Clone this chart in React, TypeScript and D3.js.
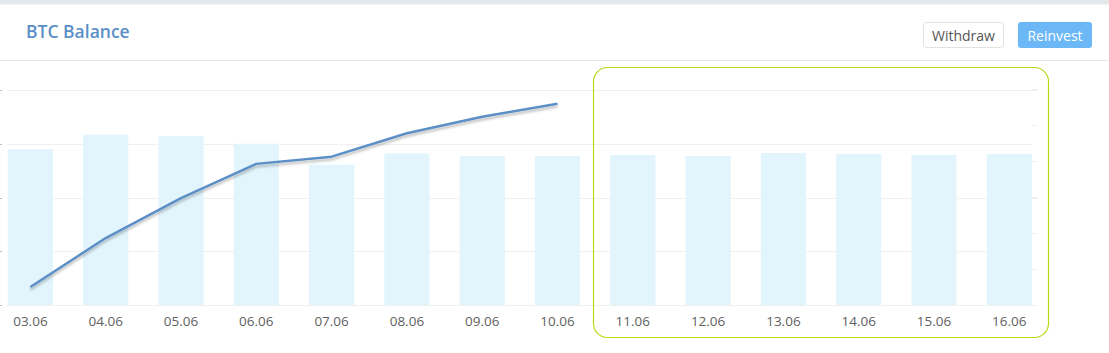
import React from "react";
import * as d3 from "d3";

const dates = ["03.06","04.06","05.06","06.06","07.06","08.06","09.06","10.06","11.06","12.06","13.06","14.06","15.06","16.06"];
const barValues = [2.90,3.17,3.14,3.00,2.61,2.82,2.77,2.77,2.79,2.77,2.83,2.81,2.79,2.81];
const lineDates = ["03.06","04.06","05.06","06.06","07.06","08.06","09.06","10.06"];
const lineValues = [0.5,1.86,2.97,3.92,4.12,4.77,5.23,5.59];
const leftTicks = [0,1,2,3,4];
const rightTicks = [0,1,2,3,4,5,6];

const W = 1109, H = 353;

export default function App() {
  const x = d3.scaleBand<string>().domain(dates).range([-7.25, 1046.95]).paddingInner(0.4).paddingOuter(0.2);
  const yL = d3.scaleLinear().domain([0, 4]).range([305, 90]);
  const yR = d3.scaleLinear().domain([0, 6]).range([305, 89]);
  const cx = (d: string) => (x(d) as number) + x.bandwidth() / 2;
  const line = d3.line<number>().x((_, i) => cx(lineDates[i])).y(v => yR(v));
  const font = "'Open Sans', 'Noto Sans', sans-serif";
  return (
    <svg width={W} height={H} style={{ position: "absolute", left: 0, top: 0, background: "#fff" }} fontFamily={font}>
      <defs>
        <filter id="sh" x="-10%" y="-20%" width="120%" height="160%">
          <feDropShadow dx="0" dy="2.5" stdDeviation="1" floodColor="#000" floodOpacity="0.25" />
        </filter>
      </defs>
      <rect x={0} y={0} width={W} height={4.5} fill="#e5e9ec" />
      <text x={26} y={38} fontSize={17.5} fontWeight={600} fill="#5b8fc6">BTC Balance</text>
      <rect x={923.5} y={22.5} width={80} height={25} rx={3} fill="#fff" stroke="#e2e2e2" />
      <text x={963.5} y={40.5} fontSize={14} fill="#555" textAnchor="middle">Withdraw</text>
      <rect x={1018} y={22} width={74} height={26} rx={3} fill="#6cb8f6" />
      <text x={1055} y={40.5} fontSize={14} fill="#fff" textAnchor="middle">Reinvest</text>
      <line x1={0} x2={W} y1={60.5} y2={60.5} stroke="#e6e6e6" />
      {leftTicks.map(t => (
        <g key={"l" + t}>
          <line x1={7} x2={[0, 2, 4].includes(t) ? 1038 : 1032} y1={Math.round(yL(t)) + 0.5} y2={Math.round(yL(t)) + 0.5} stroke="#f0f0f0" />
          <line x1={0} x2={2} y1={Math.round(yL(t)) + 0.5} y2={Math.round(yL(t)) + 0.5} stroke="#bbb" />
        </g>
      ))}
      {rightTicks.map(t => (
        <line key={"r" + t} x1={1032} x2={1038} y1={Math.round(yR(t)) + 0.5} y2={Math.round(yR(t)) + 0.5} stroke="#f0f0f0" />
      ))}
      {dates.map((d, i) => (
        <rect key={d} x={x(d)} y={yL(barValues[i])} width={x.bandwidth()} height={yL(0) - yL(barValues[i])} fill="#e2f4fc" />
      ))}
      <path d={line(lineValues) || ""} fill="none" stroke="#5b8fc6" strokeWidth={2.5} strokeLinejoin="round" filter="url(#sh)" />
      {dates.map(d => (
        <text key={"t" + d} x={cx(d)} y={326} fontSize={13.5} fill="#5f5f5f" textAnchor="middle">{d}</text>
      ))}
      <rect x={593.5} y={67.5} width={455} height={270} rx={14} fill="none" stroke="#b3dc14" strokeWidth={1.2} />
    </svg>
  );
}
